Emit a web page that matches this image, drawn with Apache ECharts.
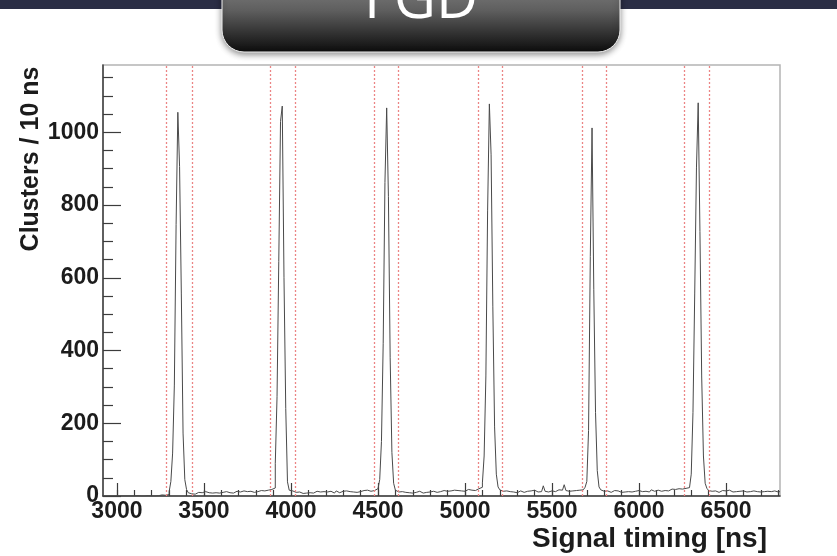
<!DOCTYPE html>
<html>
<head>
<meta charset="utf-8">
<script src="https://cdn.jsdelivr.net/npm/echarts@6/dist/echarts.min.js"></script>
<style>
  html, body { margin: 0; padding: 0; background: #ffffff; }
  #chart { width: 837px; height: 556px; }
</style>
</head>
<body>
<div id="chart"></div>
<script>
// Histogram of cluster signal timing, 10 ns bins starting at binStart.
const binStart = 2920;
const binWidth = 10;
const counts = [
  // 2920 - 2990
  0, 0, 0, 0, 0, 0, 0, 0,
  // 3000
  0, 0, 1, 0, 0, 0, 1, 0, 0, 0,
  // 3100
  0, 1, 0, 0, 2, 0, 0, 1, 0, 0,
  // 3200
  1, 0, 2, 1, 0, 3, 1, 2, 2, 4,
  // 3300
  12, 40, 118, 305, 746, 1055, 906, 558, 173, 45,
  // 3400
  18, 9, 6, 8, 5, 7, 10, 6, 9, 8,
  // 3500
  12, 7, 9, 10, 8, 6, 9, 11, 8, 7,
  // 3600
  10, 8, 12, 7, 9, 11, 8, 10, 13, 9,
  // 3700
  11, 9, 14, 10, 12, 8, 13, 11, 10, 15,
  // 3800
  12, 11, 15, 13, 14, 12, 16, 15, 18, 18,
  // 3900
  22, 90, 273, 645, 1030, 1072, 600, 241, 39, 16,
  // 4000
  14, 12, 10, 8, 11, 9, 7, 10, 8, 11,
  // 4100
  9, 12, 8, 10, 13, 9, 11, 8, 12, 10,
  // 4200
  11, 9, 13, 10, 8, 12, 14, 9, 11, 13,
  // 4300
  10, 14, 11, 12, 15, 11, 13, 10, 14, 12,
  // 4400
  13, 15, 12, 16, 14, 13, 17, 15, 18, 20,
  // 4500
  24, 45, 150, 420, 862, 1067, 824, 380, 120, 35,
  // 4600
  16, 11, 9, 12, 8, 10, 13, 9, 11, 8,
  // 4700
  12, 10, 9, 13, 11, 8, 12, 10, 14, 11,
  // 4800
  9, 13, 11, 10, 14, 12, 11, 15, 10, 13,
  // 4900
  12, 14, 11, 16, 13, 15, 12, 14, 17, 13,
  // 5000
  15, 18, 14, 16, 19, 15, 17, 20, 16, 24,
  // 5100
  36, 110, 330, 786, 1078, 938, 520, 190, 60, 25,
  // 5200
  17, 13, 11, 14, 10, 12, 15, 11, 13, 9,
  // 5300
  12, 14, 11, 10, 15, 13, 11, 14, 12, 16,
  // 5400
  13, 11, 15, 12, 14, 28, 13, 11, 16, 14,
  // 5500
  15, 12, 14, 17, 13, 16, 14, 31, 15, 13,
  // 5600
  17, 14, 16, 15, 18, 16, 19, 17, 21, 24,
  // 5700
  40, 180, 658, 1012, 567, 230, 70, 25, 17, 13,
  // 5800
  11, 14, 12, 10, 13, 15, 11, 14, 12, 10,
  // 5900
  13, 11, 15, 12, 14, 11, 16, 13, 12, 15,
  // 6000
  14, 12, 16, 13, 15, 11, 14, 17, 13, 15,
  // 6100
  16, 14, 13, 17, 15, 18, 14, 16, 19, 17,
  // 6200
  18, 16, 20, 17, 19, 18, 21, 20, 23, 28,
  // 6300
  60, 230, 558, 902, 1081, 727, 330, 110, 35, 21,
  // 6400
  15, 13, 11, 14, 12, 10, 13, 15, 11, 14,
  // 6500
  12, 16, 13, 11, 14, 12, 15, 13, 11, 14,
  // 6600
  13, 11, 15, 12, 10, 14, 13, 12, 16, 11,
  // 6700
  14, 12, 11, 13, 15, 12, 10, 14, 13, 11,
  // 6800
  12
];

// Timing-window boundaries (ns), one pair per bunch
const windowEdges = [3286, 3435, 3883, 4026, 4479, 4617, 5076, 5214, 5671, 5809, 6260, 6405];

// Axis settings
const xMin = 2920, xMax = 6810;
const yMin = 0, yMax = 1185;
const xMajorTicks = [3000, 3500, 4000, 4500, 5000, 5500, 6000, 6500];
const xMinorTicks = [3000, 3100, 3200, 3300, 3400, 3500, 3600, 3700, 3800, 3900, 4000, 4100, 4200, 4300, 4400, 4500, 4600, 4700, 4800, 4900, 5000, 5100, 5200, 5300, 5400, 5500, 5600, 5700, 5800, 5900, 6000, 6100, 6200, 6300, 6400, 6500, 6600, 6700, 6800];
const yMinorTicks = [50, 100, 150, 250, 300, 350, 450, 500, 550, 650, 700, 750, 850, 900, 950, 1050, 1100, 1150];

const xTitle = 'Signal timing [ns]';
const yTitle = 'Clusters / 10 ns';
const badgeText = 'FGD';

// Histogram outline: one point per bin low edge, closing point at the last upper edge
const stepData = counts.map((c, i) => [binStart + i * binWidth, c]);
stepData.push([binStart + counts.length * binWidth, counts[counts.length - 1]]);

const plainNumber = v => String(v);
const labelFont = { fontFamily: 'Liberation Sans', fontWeight: 'bold', fontSize: 23, color: '#1c1c1c' };
const windowStyle = { color: '#ec8585', type: [2, 2], width: 1.3 };

const chart = echarts.init(document.getElementById('chart'), null, { renderer: 'canvas' });
chart.setOption({
  animation: false,
  backgroundColor: '#ffffff',
  grid: {
    left: 103, top: 65, right: 57, bottom: 60,
    show: true, borderColor: '#b4b4b4', borderWidth: 1.5, backgroundColor: '#ffffff'
  },
  xAxis: [
    {
      type: 'value', min: xMin, max: xMax, position: 'bottom',
      axisLine: { show: true, lineStyle: { color: '#3c3c3c', width: 1.5 } },
      axisTick: { show: true, inside: true, length: 13, customValues: xMajorTicks, lineStyle: { color: '#3c3c3c', width: 1.2 } },
      axisLabel: Object.assign({ margin: 4, customValues: xMajorTicks, formatter: plainNumber }, labelFont),
      splitLine: { show: false }
    },
    {
      type: 'value', min: xMin, max: xMax, position: 'bottom',
      axisLine: { show: false },
      axisTick: { show: true, inside: true, length: 6, customValues: xMinorTicks, lineStyle: { color: '#3c3c3c', width: 1.2 } },
      axisLabel: { show: false },
      splitLine: { show: false }
    }
  ],
  yAxis: [
    {
      type: 'value', min: yMin, max: yMax, interval: 200, position: 'left',
      axisLine: { show: true, lineStyle: { color: '#3c3c3c', width: 1.5 } },
      axisTick: { show: true, inside: true, length: 18, lineStyle: { color: '#3c3c3c', width: 1.2 } },
      axisLabel: Object.assign({ margin: 4, showMaxLabel: false, formatter: plainNumber }, labelFont),
      splitLine: { show: false }
    },
    {
      type: 'value', min: yMin, max: yMax, position: 'left',
      axisLine: { show: false },
      axisTick: { show: true, inside: true, length: 10, customValues: yMinorTicks, lineStyle: { color: '#3c3c3c', width: 1.2 } },
      axisLabel: { show: false },
      splitLine: { show: false }
    }
  ],
  series: [
    {
      type: 'line',
      xAxisIndex: 0, yAxisIndex: 0,
      data: stepData,
      step: 'end',
      symbol: 'none',
      silent: true,
      lineStyle: { color: '#4a4a4a', width: 1 },
      markLine: {
        silent: true,
        symbol: 'none',
        label: { show: false },
        emphasis: { disabled: true },
        lineStyle: windowStyle,
        data: windowEdges.map(v => ({ xAxis: v, lineStyle: windowStyle }))
      },
      z: 3
    }
  ],
  graphic: [
    // dark header band
    { type: 'rect', shape: { x: 0, y: 0, width: 837, height: 9 }, style: { fill: '#2b2e45' }, z: 10 },
    // title badge
    {
      type: 'rect', z: 11,
      shape: { x: 222, y: -40, width: 398, height: 92, r: [0, 0, 22, 22] },
      style: {
        fill: new echarts.graphic.LinearGradient(0, 0, 0, 1, [
          { offset: 0, color: '#9a9a9a' },
          { offset: 0.55, color: '#5e5e5e' },
          { offset: 1, color: '#0c0c0c' }
        ]),
        stroke: '#f2f2f2', lineWidth: 1,
        shadowBlur: 6, shadowColor: 'rgba(0,0,0,0.45)', shadowOffsetY: 2
      }
    },
    {
      type: 'text', z: 12, x: 421, y: 30,
      style: {
        text: badgeText, fill: '#ffffff', align: 'center', verticalAlign: 'bottom',
        font: 'normal 58px "Open Sans", "Noto Sans", sans-serif'
      }
    },
    // axis titles
    {
      type: 'text', z: 5, x: 767, y: 539,
      style: {
        text: xTitle, fill: '#1c1c1c', align: 'right', verticalAlign: 'middle',
        font: 'bold 28px "Liberation Sans", Arial, sans-serif'
      }
    },
    {
      type: 'text', z: 5, x: 31, y: 159, rotation: Math.PI / 2,
      style: {
        text: yTitle, fill: '#1c1c1c', align: 'center', verticalAlign: 'middle',
        font: 'bold 25px "Liberation Sans", Arial, sans-serif'
      }
    }
  ]
});
</script>
</body>
</html>
